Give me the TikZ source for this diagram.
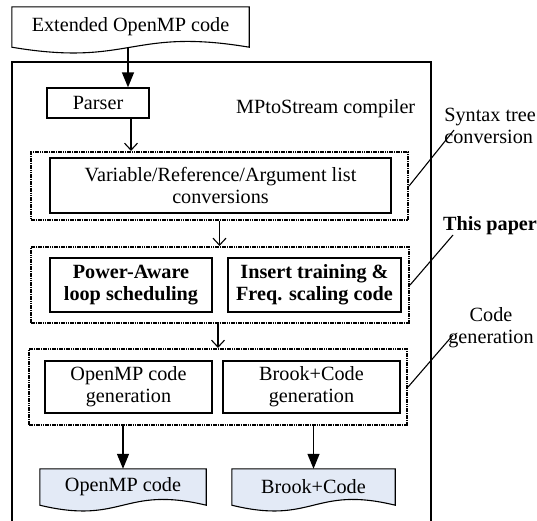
\documentclass[tikz,border=0pt]{standalone}
\usepackage{fontspec}
\setmainfont{Liberation Serif}
\usetikzlibrary{arrows.meta,calc,backgrounds}
\newcommand\myfs{\fontsize{20.2}{22}\selectfont}
\definecolor{docblue}{RGB}{227,234,246}
\tikzset{
  box/.style={draw, line width=1.3pt, inner sep=0pt, align=center, font=\myfs},
  dbox/.style={draw, line width=2.1pt, dash pattern=on 1.6pt off 0.7pt, inner sep=0pt},
  docn/.style={inner sep=0pt, align=center, font=\myfs},
  docline/.style={draw, line width=1.1pt},
  lbl/.style={inner sep=0pt, font=\myfs, align=center},
  bigarr/.style={line width=1.3pt, -{Triangle[length=15pt,width=12pt]}},
  smallarr/.style={line width=1.1pt, -{Straight Barb[length=7pt,width=13pt,line width=1.1pt]}},
  annot/.style={line width=1.1pt},
}
\begin{document}
\begin{tikzpicture}[x=1pt,y=-1pt]
\useasboundingbox (0,0) rectangle (537,520);
\clip (0,0) rectangle (537,520);

% top document
\node[docn, minimum width=237pt, minimum height=40pt] (ext) at (130.5,27) {Extended OpenMP code};
\begin{pgfonlayer}{background}
\draw[docline, fill=white] (ext.south west) -- (ext.north west) -- (ext.north east) -- (ext.south east)
  .. controls ($(ext.south)+(0,-20)$) and ($(ext.south)+(0,20)$) .. (ext.south west) -- cycle;
\end{pgfonlayer}

% outer compiler box
\node[draw, line width=1.3pt, minimum width=419pt, minimum height=480pt, inner sep=0pt] (outer) at (221.5,302) {};

% parser
\node[box, minimum width=102pt, minimum height=30pt] (parser) at (98,103) {Parser};
\node[lbl, anchor=base west] (mp) at (236,113) {MPtoStream compiler};

% dashed group 1
\node[dbox, minimum width=377pt, minimum height=68pt] (dbox1) at (219.5,186) {};
\node[box, minimum width=341pt, minimum height=55pt] (conv) at (220.5,185.5) {Variable/Reference/Argument list\\conversions};

% dashed group 2
\node[dbox, minimum width=378pt, minimum height=76pt] (dbox2) at (220,285) {};
\node[box, minimum width=162pt, minimum height=54pt, font=\myfs\bfseries] (pa) at (131,285) {Power-Aware\\loop scheduling};
\node[box, minimum width=173pt, minimum height=54pt, font=\myfs\bfseries] (ins) at (314.5,285) {Insert training \&\\Freq. scaling code};

% dashed group 3
\node[dbox, minimum width=378pt, minimum height=76pt] (dbox3) at (218,387) {};
\node[box, minimum width=167pt, minimum height=52pt] (og) at (128.5,387) {OpenMP code\\generation};
\node[box, minimum width=177pt, minimum height=52pt] (bg) at (311.5,387) {Brook+Code\\generation};

% output documents
\node[docn, minimum width=166pt, minimum height=36pt] (omp) at (123,487) {OpenMP code};
\node[docn, minimum width=163pt, minimum height=36pt] (brook) at (313.5,487) {Brook+Code};
\begin{pgfonlayer}{background}
\foreach \d in {omp,brook}{
\draw[docline, fill=docblue] (\d.south west) -- (\d.north west) -- (\d.north east) -- (\d.south east)
  .. controls ($(\d.south)+(0,-20)$) and ($(\d.south)+(0,20)$) .. (\d.south west) -- cycle;
}
\end{pgfonlayer}

% right annotations
\node[lbl, align=left, anchor=east] (syn) at (536,126) {Syntax tree\\conversion};
\node[lbl, anchor=base west, font=\myfs\bfseries] (paper) at (443,230) {This paper};
\node[lbl] (cg) at (491,327.5) {Code\\generation};
\coordinate (e1) at (454,130);
\coordinate (e2) at (453,235);
\coordinate (e3) at (453,335);
\draw[annot] (dbox1.east) -- (e1);
\draw[annot] (dbox2.east) -- (e2);
\draw[annot] (dbox3.east) -- (e3);

% arrows
\coordinate (ax0) at (128,0);
\coordinate (ax1) at (131,0);
\draw[bigarr] (ext.south -| ax0) -- (parser.north -| ax0);
\draw[smallarr] (parser.south -| ax1) -- (dbox1.north -| ax1);
\draw[smallarr] (dbox1.south) -- (dbox2.north -| dbox1.south);
\draw[smallarr] (dbox2.south -| dbox3.north) -- (dbox3.north);
\draw[bigarr] (dbox3.south -| omp.north) -- (omp.north);
\draw[bigarr] (dbox3.south -| brook.north) -- (brook.north);
\end{tikzpicture}
\end{document}
